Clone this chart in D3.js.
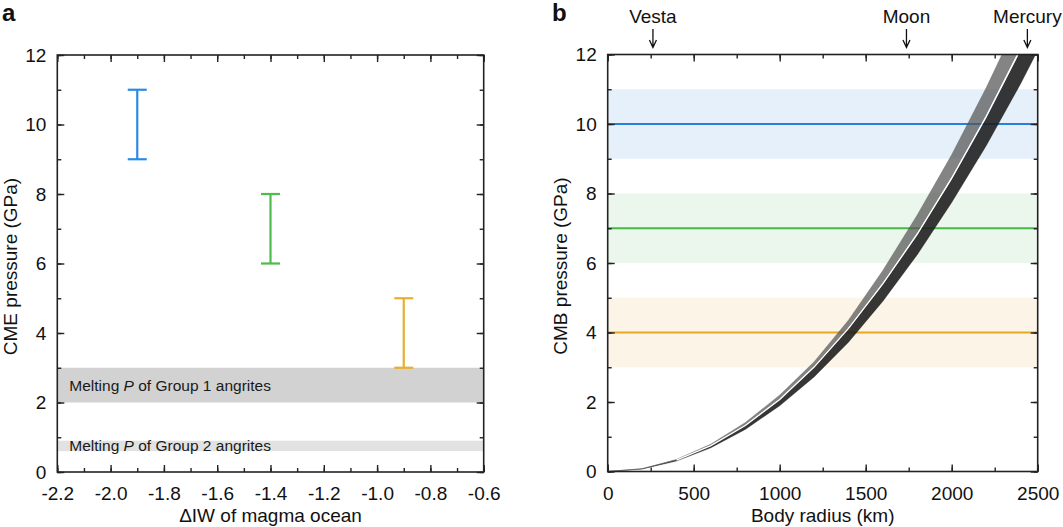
<!DOCTYPE html>
<html><head><meta charset="utf-8">
<script src="https://cdn.jsdelivr.net/npm/d3@7"></script>
<style>
body{margin:0;background:#fff;}
svg{display:block;font-family:"Liberation Sans",Arial,Helvetica,sans-serif;}
</style></head>
<body>
<svg id="chart" width="1063" height="527"></svg>
<script>
// ---------- Panel a data ----------
const aXTicks = [-2.2, -2.0, -1.8, -1.6, -1.4, -1.2, -1.0, -0.8, -0.6];
const aYTicks = [0, 2, 4, 6, 8, 10, 12];
const errX = [-1.9, -1.4, -0.9];
const errLow = [9, 6, 3];
const errHigh = [11, 8, 5];
const errColors = ["#2e89e6", "#4dbd4d", "#eaae2e"];
const meltBands = [
  {label: "Group 1", lo: 2, hi: 3, fill: "#d2d2d2"},
  {label: "Group 2", lo: 0.6, hi: 0.9, fill: "#e2e2e2"}
];

// ---------- Panel b data ----------
const bXTicks = [0, 500, 1000, 1500, 2000, 2500];
const bYTicks = [0, 2, 4, 6, 8, 10, 12];
const bandCenter = [10, 7, 4];
const bandLo = [9, 6, 3];
const bandHi = [11, 8, 5];
const lineColors = ["#2a80d8", "#46b846", "#e8a822"];
const bandColors = ["#e6f0fa", "#ebf6ec", "#fcf4e6"];
const radius =  [0, 200, 400, 600, 800, 1000, 1200, 1400, 1600, 1800, 2000, 2200, 2400, 2600];
const grayHi =  [0, 0.08, 0.35, 0.79, 1.41, 2.20, 3.16, 4.36, 5.79, 7.39, 9.12, 11.04, 13.13, 15.41];
const grayLo =  [0, 0.08, 0.33, 0.75, 1.33, 2.08, 3.02, 4.14, 5.43, 6.87, 8.48, 10.26, 12.21, 14.33];
const darkHi =  [0, 0.08, 0.33, 0.74, 1.32, 2.06, 2.99, 4.10, 5.38, 6.80, 8.40, 10.16, 12.10, 14.20];
const darkLo =  [0, 0.07, 0.30, 0.68, 1.21, 1.89, 2.72, 3.72, 4.90, 6.24, 7.74, 9.37, 11.15, 13.08];
const bodies = ["Vesta", "Moon", "Mercury"];
const bodyRadius = [263, 1737, 2440];

const svg = d3.select("#chart");
const FONT = 19;
const axisColor = "#222";

function frameAxes(g, x, y, W, H, xMajor, xMinor, yMajor, yMinor, xFmt, yFmt) {
  const mk = (axisFn, scale, vals, size, labels, fmt, pad) => {
    const a = axisFn(scale).tickValues(vals).tickSize(size).tickPadding(pad || 0);
    if (labels) a.tickFormat(fmt); else a.tickFormat("");
    return a;
  };
  const styleAxis = sel => {
    sel.select(".domain").remove();
    sel.selectAll("line").attr("stroke", axisColor).attr("stroke-width", 1.4);
    sel.selectAll("text").attr("fill", "#111").style("font-size", FONT + "px").style("font-family", "'Liberation Sans',Arial,sans-serif");
  };
  g.append("g").attr("transform", `translate(0,${H})`).call(mk(d3.axisBottom, x, xMinor, -4, false)).call(styleAxis);
  g.append("g").attr("transform", `translate(0,${H})`).call(mk(d3.axisBottom, x, xMajor, -7, true, xFmt, 15)).call(styleAxis);
  g.append("g").call(mk(d3.axisTop, x, xMinor, -4, false)).call(styleAxis);
  g.append("g").call(mk(d3.axisTop, x, xMajor, -7, false)).call(styleAxis);
  g.append("g").call(mk(d3.axisLeft, y, yMinor, -4, false)).call(styleAxis);
  g.append("g").call(mk(d3.axisLeft, y, yMajor, -7, true, yFmt, 11)).call(styleAxis);
  g.append("g").attr("transform", `translate(${W},0)`).call(mk(d3.axisRight, y, yMinor, -4, false)).call(styleAxis);
  g.append("g").attr("transform", `translate(${W},0)`).call(mk(d3.axisRight, y, yMajor, -7, false)).call(styleAxis);
  g.append("rect").attr("x", 0).attr("y", 0).attr("width", W).attr("height", H)
    .attr("fill", "none").attr("stroke", axisColor).attr("stroke-width", 1.6);
}

// ================= Panel a =================
{
  const L = 57.3, T = 55, W = 426.4, H = 417;
  const g = svg.append("g").attr("transform", `translate(${L},${T})`);
  const x = d3.scaleLinear().domain([-2.2, -0.6]).range([0, W]);
  const y = d3.scaleLinear().domain([0, 12]).range([H, 0]);

  g.selectAll("rect.melt").data(meltBands).enter().append("rect")
    .attr("x", 0).attr("width", W)
    .attr("y", d => y(d.hi)).attr("height", d => y(d.lo) - y(d.hi))
    .attr("fill", d => d.fill);

  const mt = g.selectAll("text.melt").data(meltBands).enter().append("text")
    .attr("x", 12).attr("y", d => (y(d.hi) + y(d.lo)) / 2 + 5.5)
    .style("font-size", "15.5px").attr("fill", "#1a1a1a");
  mt.append("tspan").text("Melting ");
  mt.append("tspan").style("font-style", "italic").text("P");
  mt.append("tspan").text(d => " of " + d.label + " angrites");

  const cap = 9.5;
  errX.forEach((xv, i) => {
    const eg = g.append("g").attr("stroke", errColors[i]).attr("stroke-width", 2.2);
    eg.append("line").attr("x1", x(xv)).attr("x2", x(xv)).attr("y1", y(errLow[i])).attr("y2", y(errHigh[i]));
    eg.append("line").attr("x1", x(xv) - cap).attr("x2", x(xv) + cap).attr("y1", y(errLow[i])).attr("y2", y(errLow[i]));
    eg.append("line").attr("x1", x(xv) - cap).attr("x2", x(xv) + cap).attr("y1", y(errHigh[i])).attr("y2", y(errHigh[i]));
  });

  const xMinor = d3.range(-2.2, -0.55, 0.1).map(v => +v.toFixed(1));
  const yMinor = d3.range(0, 12.5, 1);
  frameAxes(g, x, y, W, H, aXTicks, xMinor, aYTicks, yMinor, d => d.toFixed(1), d3.format("d"));

  g.append("text").attr("x", W / 2).attr("y", 522 - T).attr("text-anchor", "middle")
    .style("font-size", FONT + "px").attr("fill", "#111").text("ΔIW of magma ocean");
  g.append("text").attr("transform", `translate(${17 - L},${H / 2 + 3}) rotate(-90)`).attr("text-anchor", "middle")
    .style("font-size", FONT + "px").attr("fill", "#111").text("CME pressure (GPa)");
  svg.append("text").attr("x", 2).attr("y", 21).style("font-size", "24px").style("font-weight", "bold").attr("fill", "#111").text("a");
}

// ================= Panel b =================
{
  const L = 607.7, T = 54.5, W = 430, H = 417;
  const g = svg.append("g").attr("transform", `translate(${L},${T})`);
  const x = d3.scaleLinear().domain([0, 2500]).range([0, W]);
  const y = d3.scaleLinear().domain([0, 12]).range([H, 0]);

  g.append("clipPath").attr("id", "clipb").append("rect").attr("width", W).attr("height", H);

  bandCenter.forEach((c, i) => {
    g.append("rect").attr("x", 0).attr("width", W).attr("y", y(bandHi[i])).attr("height", y(bandLo[i]) - y(bandHi[i]))
      .attr("fill", bandColors[i]);
  });
  bandCenter.forEach((c, i) => {
    g.append("line").attr("x1", 0).attr("x2", W).attr("y1", y(c)).attr("y2", y(c))
      .attr("stroke", lineColors[i]).attr("stroke-width", 1.8);
  });

  const pts = radius.map((r, i) => ({r, gh: grayHi[i], gl: grayLo[i], dh: darkHi[i], dl: darkLo[i]}));
  const cg = g.append("g").attr("clip-path", "url(#clipb)");
  const areaDark = d3.area().x(d => x(d.r)).y0(d => y(d.dl)).y1(d => y(d.dh));
  const areaGray = d3.area().x(d => x(d.r)).y0(d => y(d.gl)).y1(d => y(d.gh));
  cg.append("path").datum(pts).attr("d", areaDark).attr("fill", "#1a1a1a").attr("fill-opacity", 0.88)
    .attr("stroke", "#1a1a1a").attr("stroke-opacity", 0.5).attr("stroke-width", 0.6);
  cg.append("path").datum(pts).attr("d", areaGray).attr("fill", "#555").attr("fill-opacity", 0.72)
    .attr("stroke", "#555").attr("stroke-opacity", 0.4).attr("stroke-width", 0.6);
  cg.append("path").datum(pts.filter(d => d.r >= 400))
    .attr("d", d3.line().x(d => x(d.r)).y(d => y((d.gl + d.dh) / 2)))
    .attr("fill", "none").attr("stroke", "#fff").attr("stroke-width", 1.3);

  const xMinor = d3.range(0, 2501, 250);
  const yMinor = d3.range(0, 12.5, 1);
  frameAxes(g, x, y, W, H, bXTicks, xMinor, bYTicks, yMinor, d3.format("d"), d3.format("d"));

  g.append("text").attr("x", W / 2).attr("y", 522 - T).attr("text-anchor", "middle")
    .style("font-size", FONT + "px").attr("fill", "#111").text("Body radius (km)");
  g.append("text").attr("transform", `translate(${567 - L},${H / 2 + 3}) rotate(-90)`).attr("text-anchor", "middle")
    .style("font-size", FONT + "px").attr("fill", "#111").text("CMB pressure (GPa)");

  bodies.forEach((name, i) => {
    const bx = x(bodyRadius[i]);
    g.append("text").attr("x", bx).attr("y", 23 - T).attr("text-anchor", "middle")
      .style("font-size", FONT + "px").attr("fill", "#111").text(name);
    g.append("path").attr("d", `M${bx},${29 - T}V${47.5 - T}M${bx - 3.5},${40 - T}L${bx},${47.5 - T}L${bx + 3.5},${40 - T}`)
      .attr("fill", "none").attr("stroke", "#111").attr("stroke-width", 1.3);
  });
  svg.append("text").attr("x", 552).attr("y", 21).style("font-size", "24px").style("font-weight", "bold").attr("fill", "#111").text("b");
}
</script>
</body></html>
